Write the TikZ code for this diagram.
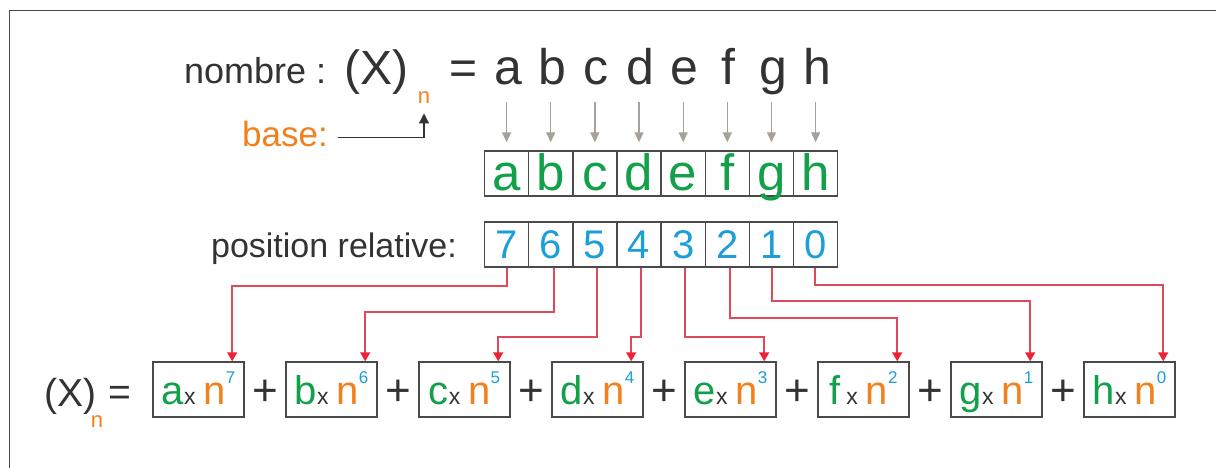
\documentclass[tikz,border=0pt]{standalone}
\usepackage{fontspec}
\setmainfont{Liberation Sans}
\usetikzlibrary{arrows.meta}
\definecolor{grn}{HTML}{13A04A}
\definecolor{org}{HTML}{F2801C}
\definecolor{blu}{HTML}{1C9FD9}
\definecolor{dk}{HTML}{333333}
\definecolor{boxc}{HTML}{4A4A4A}
\definecolor{gry}{HTML}{A7A19B}
\definecolor{redl}{HTML}{DE4A5C}
\definecolor{redh}{HTML}{EC2338}
\newcommand\fsz[1]{\fontsize{#1}{#1}\selectfont}
\newcommand\fterm[3]{{\color{grn}\fsz{40}#1}\hspace{#2}{\color{dk}\fsz{23}x}\hspace{8pt}{\color{org}\fsz{40}n}\raisebox{21pt}{\color{blu}\fsz{17}#3}}
\begin{document}
\begin{tikzpicture}[x=1pt,y=-1pt,
  txt/.style={inner sep=0pt, anchor=base, text=dk},
  lcell/.style={draw=boxc, line width=1.4pt, minimum width=44.15pt, minimum height=45pt, inner sep=0pt, text=grn, font=\fsz{51}, text height=33pt, text depth=0pt},
  pcell/.style={draw=boxc, line width=1.4pt, minimum width=44.15pt, minimum height=45pt, inner sep=0pt, text=blu, font=\fsz{40}, text height=27pt, text depth=0pt},
  fbox/.style={draw=boxc, line width=1.4pt, minimum width=91pt, minimum height=55pt, inner sep=0pt, text height=29pt, text depth=0pt},
  grayarr/.style={draw=gry, line width=1.3pt, -{Triangle[width=9pt,length=10pt]}},
  basearr/.style={draw=dk, line width=1.2pt, -{Triangle[width=10pt,length=10pt]}},
  redarr/.style={draw=redl, line width=1.6pt, -{Triangle[width=10pt,length=9pt,color=redh]}}
]
\fill[white] (0,0) rectangle (1216,468);
\useasboundingbox (0,0) rectangle (1216,468);
\draw[boxc, line width=1.6pt] (9.5,468) -- (9.5,10.7) -- (1216,10.7);

% top row
\node[txt, anchor=base west, font=\fsz{36}] (nom) at (184,84) {nombre :};
\node[txt, anchor=base west, font=\fsz{48}] (X1) at (344,85) {(X)};
\node[txt, text=org, font=\fsz{22}] (n1) at (424,103.3) {n};
\node[txt, font=\fsz{48}] (eq1) at (464,85) {=};
\node[txt, anchor=base west, text=org, font=\fsz{35}] (bl) at (242,146.5) {base:};
\draw[basearr] ([xshift=10pt,yshift=-3.5pt]bl.east) -| ([yshift=-10pt]n1.south);

\node[txt, anchor=base east, font=\fsz{34}] (pr) at (457,257.5) {position relative:};

\foreach \ch [count=\i] in {a,b,c,d,e,f,g,h} {
  \pgfmathsetmacro\cx{484.5+44.15*(\i-0.5)}
  \pgfmathtruncatemacro\pos{8-\i}
  \node[lcell] (l\i) at (\cx,173.5) {\ch};
  \node[pcell] (p\i) at (\cx,244.5) {\pos};
  \node[txt, font=\fsz{50}] (t\i) at ({\cx+1.5},85) {\ch};
  \draw[grayarr] (l\i.north) ++(0,-48) -- ([yshift=8pt]l\i.north);
}

% bottom formula
\node[txt, anchor=base west, font=\fsz{39}] (X2) at (44,406) {(X)};
\node[txt, text=org, font=\fsz{22}] (n2) at (97,427) {n};
\node[txt, font=\fsz{39}] (eq2) at (120,405) {=};

\foreach \L/\S/\P [count=\i] in {a/0pt/7, b/0pt/6, c/0pt/5, d/0pt/4, e/0pt/3, f/6pt/2, g/0pt/1, h/0pt/0} {
  \node[fbox] (f\i) at ({198.5+133*(\i-1)},389.5) {\fterm{\L}{\S}{\P}};
}
\foreach \i in {1,...,7} {
  \node[txt, font=\fsz{44}] (plus\i) at ({265+133*(\i-1)},405) {+};
}

\foreach \i/\xs/\dr in {1/0.5/18.5, 2/3/44, 3/2/69.5, 4/2/69.5, 5/2/69.5, 6/2.5/50, 7/0.5/33.5, 8/-0.5/17.5} {
  \draw[redarr] ([xshift=\xs pt]p\i.south) -- ++(0,\dr) -| ([xshift=-12.5pt]f\i.north east);
}
\end{tikzpicture}
\end{document}
